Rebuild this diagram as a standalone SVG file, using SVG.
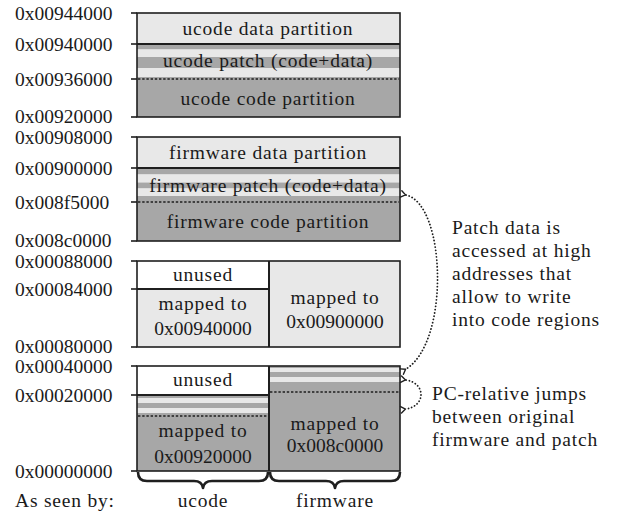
<svg xmlns="http://www.w3.org/2000/svg" width="623" height="521" viewBox="0 0 623 521" font-family="'Liberation Serif', 'DejaVu Serif', serif">
  <defs>
    <style>
      text { font-family: "Liberation Serif", "DejaVu Serif", serif; font-size: 19.5px; fill: #1a1a1a; }
      .w { letter-spacing: 0.8px; }
      .mid { text-anchor: middle; }
      .light { fill: #e8e8e8; }
      .dark { fill: #a7a7a7; }
      .white { fill: #ffffff; }
      .frame { fill: none; stroke: #1f1f1f; stroke-width: 1.6; }
      .sep { stroke: #1f1f1f; stroke-width: 2; }
      .tick { stroke: #1f1f1f; stroke-width: 1.6; }
      .dots { stroke: #1f1f1f; stroke-width: 1.3; stroke-dasharray: 2.4 1.8; }
      .link { fill: none; stroke: #1f1f1f; stroke-width: 1.8; stroke-linecap: round; stroke-dasharray: 0.1 3.2; }
      .brace { fill: none; stroke: #1f1f1f; stroke-width: 2.6; stroke-linejoin: round; }
    </style>
    <marker id="chev" viewBox="-1 -5 8 10" markerWidth="8" markerHeight="10" refX="0" refY="0" orient="auto-start-reverse" markerUnits="userSpaceOnUse">
      <path d="M5,-3.2 L0.5,0 L5,3.2" fill="none" stroke="#1f1f1f" stroke-width="1.4" stroke-linecap="round" stroke-linejoin="round"/>
    </marker>
  </defs>

  <!-- address ticks and labels -->
  <g id="addresses">
    <g class="tick">
      <line x1="131" y1="13" x2="137" y2="13"/>
      <line x1="131" y1="44" x2="137" y2="44"/>
      <line x1="131" y1="79" x2="137" y2="79"/>
      <line x1="131" y1="117" x2="137" y2="117"/>
      <line x1="131" y1="137" x2="137" y2="137"/>
      <line x1="131" y1="168" x2="137" y2="168"/>
      <line x1="131" y1="202" x2="137" y2="202"/>
      <line x1="131" y1="241" x2="137" y2="241"/>
      <line x1="131" y1="261" x2="137" y2="261"/>
      <line x1="131" y1="289" x2="137" y2="289"/>
      <line x1="131" y1="347" x2="137" y2="347"/>
      <line x1="131" y1="366" x2="137" y2="366"/>
      <line x1="131" y1="395" x2="137" y2="395"/>
      <line x1="131" y1="471" x2="137" y2="471"/>
    </g>
    <text x="15" y="19.5">0x00944000</text>
    <text x="15" y="50.5">0x00940000</text>
    <text x="15" y="85.5">0x00936000</text>
    <text x="15" y="123">0x00920000</text>
    <text x="15" y="143.5">0x00908000</text>
    <text x="15" y="174.5">0x00900000</text>
    <text x="15" y="208.5">0x008f5000</text>
    <text x="15" y="247">0x008c0000</text>
    <text x="15" y="267.5">0x00088000</text>
    <text x="15" y="295.5">0x00084000</text>
    <text x="15" y="353">0x00080000</text>
    <text x="15" y="373">0x00040000</text>
    <text x="15" y="401.5">0x00020000</text>
    <text x="15" y="477.5">0x00000000</text>
  </g>

  <!-- ucode memory region -->
  <g id="ucode-region">
    <rect class="light" x="137" y="13" width="263" height="31"/>
    <rect class="dark" x="137" y="44" width="263" height="5.5"/>
    <rect class="light" x="137" y="49.5" width="263" height="7.5"/>
    <rect class="dark" x="137" y="57" width="263" height="11"/>
    <rect class="light" x="137" y="68" width="263" height="9"/>
    <rect class="dark" x="137" y="77" width="263" height="40"/>
    <line class="sep" x1="137" y1="44" x2="400" y2="44"/>
    <line class="dots" x1="138" y1="79" x2="399" y2="79"/>
    <rect class="frame" x="137" y="13" width="263" height="104"/>
    <text class="mid w" x="268" y="35">ucode data partition</text>
    <text class="mid w" x="268" y="67">ucode patch (code+data)</text>
    <text class="mid w" x="268" y="105">ucode code partition</text>
  </g>

  <!-- firmware memory region -->
  <g id="firmware-region">
    <rect class="light" x="137" y="137" width="263" height="31"/>
    <rect class="dark" x="137" y="168" width="263" height="6.5"/>
    <rect class="light" x="137" y="174.5" width="263" height="8"/>
    <rect class="dark" x="137" y="182.5" width="263" height="6"/>
    <rect class="light" x="137" y="188.5" width="263" height="7.5"/>
    <rect class="dark" x="137" y="196" width="263" height="45"/>
    <line class="sep" x1="137" y1="168" x2="400" y2="168"/>
    <line class="dots" x1="138" y1="202" x2="399" y2="202"/>
    <rect class="frame" x="137" y="137" width="263" height="104"/>
    <text class="mid w" x="268" y="159">firmware data partition</text>
    <text class="mid w" x="268" y="192">firmware patch (code+data)</text>
    <text class="mid w" x="268" y="228">firmware code partition</text>
  </g>

  <!-- high mapped window -->
  <g id="high-window">
    <rect class="white" x="137" y="261" width="132" height="28"/>
    <rect class="light" x="137" y="289" width="132" height="58"/>
    <rect class="light" x="269" y="261" width="131" height="86"/>
    <line class="sep" x1="137" y1="289" x2="269" y2="289"/>
    <line class="sep" x1="269" y1="261" x2="269" y2="347"/>
    <rect class="frame" x="137" y="261" width="263" height="86"/>
    <text class="mid w" x="203" y="281">unused</text>
    <text class="mid w" x="203" y="310">mapped to</text>
    <text class="mid" x="203" y="335">0x00940000</text>
    <text class="mid w" x="335" y="304">mapped to</text>
    <text class="mid" x="335" y="328">0x00900000</text>
  </g>

  <!-- low mapped window -->
  <g id="low-window">
    <rect class="white" x="137" y="366" width="132" height="29"/>
    <rect class="dark" x="137" y="395" width="132" height="3"/>
    <rect class="light" x="137" y="398" width="132" height="5"/>
    <rect class="dark" x="137" y="403" width="132" height="5"/>
    <rect class="light" x="137" y="408" width="132" height="5"/>
    <rect class="dark" x="137" y="413" width="132" height="58"/>
    <rect class="dark" x="269" y="366" width="131" height="2"/>
    <rect class="light" x="269" y="368" width="131" height="4"/>
    <rect class="dark" x="269" y="372" width="131" height="5"/>
    <rect class="light" x="269" y="377" width="131" height="5"/>
    <rect class="dark" x="269" y="382" width="131" height="89"/>
    <line class="sep" x1="137" y1="395" x2="269" y2="395"/>
    <line class="sep" x1="269" y1="366" x2="269" y2="471"/>
    <line class="dots" x1="138" y1="416" x2="268" y2="416"/>
    <line class="dots" x1="270" y1="392" x2="399" y2="392"/>
    <rect class="frame" x="137" y="366" width="263" height="105"/>
    <text class="mid w" x="203" y="386">unused</text>
    <text class="mid w" x="203" y="437">mapped to</text>
    <text class="mid" x="203" y="463">0x00920000</text>
    <text class="mid w" x="335" y="430">mapped to</text>
    <text class="mid" x="335" y="452">0x008c0000</text>
  </g>

  <!-- viewer braces -->
  <g id="viewers">
    <path class="brace" d="M138,472 Q138,481 147,481 L194,481 Q202,481 203,488 Q204,481 212,481 L259,481 Q268,481 268,472"/>
    <path class="brace" d="M270,472 Q270,481 279,481 L326,481 Q334,481 335,488 Q336,481 344,481 L391,481 Q400,481 400,472"/>
    <text class="w" x="15" y="507">As seen by:</text>
    <text class="mid w" x="203" y="507">ucode</text>
    <text class="mid w" x="335" y="507">firmware</text>
  </g>

  <!-- annotations -->
  <g id="note-patch-data">
    <text class="w" x="452" y="234">Patch data is</text>
    <text class="w" x="452" y="257">accessed at high</text>
    <text class="w" x="452" y="280">addresses that</text>
    <text class="w" x="452" y="303">allow to write</text>
    <text class="w" x="452" y="326">into code regions</text>
  </g>
  <g id="note-jumps">
    <text class="w" x="432" y="400">PC-relative jumps</text>
    <text class="w" x="432" y="423">between original</text>
    <text class="w" x="432" y="446">firmware and patch</text>
  </g>

  <!-- connectors -->
  <g id="connectors">
    <path class="link" d="M406,195 C446,204 450,342 406,369" marker-start="url(#chev)" marker-end="url(#chev)"/>
    <path class="link" d="M406,380 C426,383 426,406 406,409" marker-start="url(#chev)" marker-end="url(#chev)"/>
  </g>
</svg>
